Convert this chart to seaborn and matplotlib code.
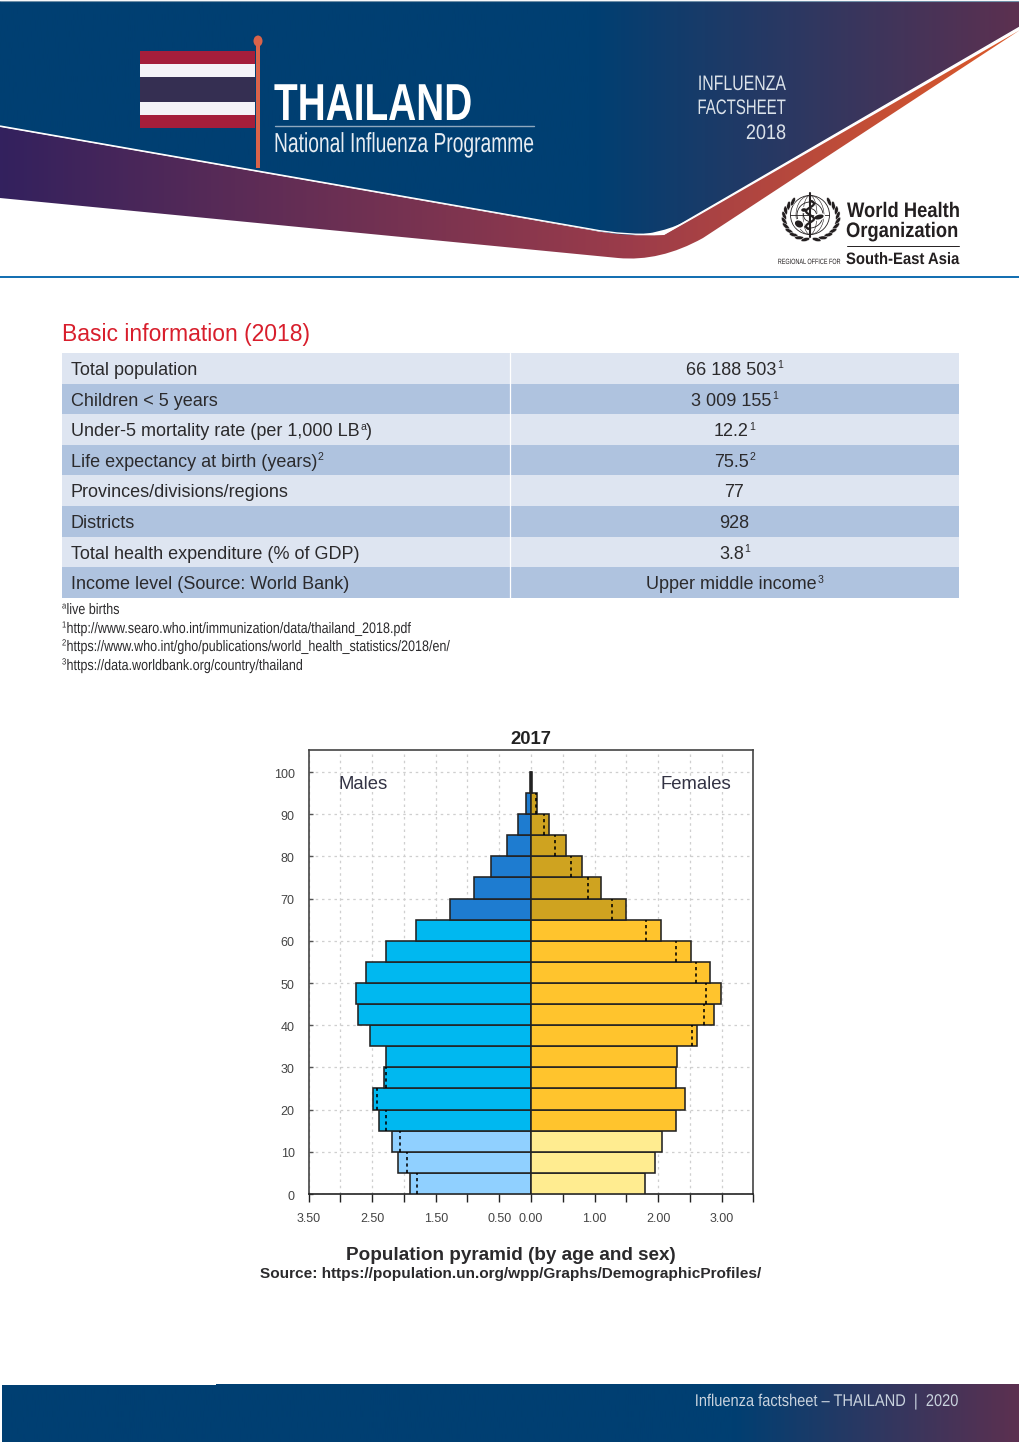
"""Thailand influenza factsheet page: header, basic info table and population pyramid."""

import numpy as np
import pandas as pd
import matplotlib
matplotlib.use("Agg")
import matplotlib.pyplot as plt
import matplotlib.patheffects as pe
import matplotlib.ticker as ticker
from matplotlib.colors import LinearSegmentedColormap
from matplotlib.patches import Circle, Ellipse, PathPatch, Rectangle
from matplotlib.path import Path
from matplotlib.transforms import Affine2D, ScaledTranslation
import seaborn as sns

# ── DATA ──────────────────────────────────────────────────
AGE_MID = [2.5, 7.5, 12.5, 17.5, 22.5, 27.5, 32.5, 37.5, 42.5, 47.5,
           52.5, 57.5, 62.5, 67.5, 72.5, 77.5, 82.5, 87.5, 92.5, 97.5]
MALES = [1.905, 2.09, 2.19, 2.395, 2.495, 2.31, 2.29, 2.537, 2.716, 2.758,
         2.595, 2.29, 1.805, 1.279, 0.895, 0.632, 0.384, 0.205, 0.084, 0.02]
FEMALES = [1.79, 1.96, 2.07, 2.28, 2.42, 2.28, 2.295, 2.616, 2.88, 2.984,
           2.82, 2.516, 2.047, 1.5, 1.095, 0.81, 0.547, 0.284, 0.1, 0.02]
AGE_BAND = ["young"] * 3 + ["adult"] * 10 + ["old"] * 7

X_TICKS = [-3.5, -3, -2.5, -2, -1.5, -1, -0.5, 0, 0.5, 1, 1.5, 2, 2.5, 3, 3.5]
X_LABELLED = [-3.5, -2.5, -1.5, -0.5, 0, 1, 2, 3]
Y_TICKS = [0, 10, 20, 30, 40, 50, 60, 70, 80, 90, 100]

# (text, superscript, text after the superscript)
TABLE_LABELS = [
    ("Total population", "", ""),
    ("Children < 5 years", "", ""),
    ("Under-5 mortality rate (per 1,000 LB", "a", ")"),
    ("Life expectancy at birth (years)", "2", ""),
    ("Provinces/divisions/regions", "", ""),
    ("Districts", "", ""),
    ("Total health expenditure (% of GDP)", "", ""),
    ("Income level (Source: World Bank)", "", ""),
]
TABLE_VALUES = [
    ("66 188 503", "1", ""), ("3 009 155", "1", ""), ("12.2", "1", ""), ("75.5", "2", ""),
    ("77", "", ""), ("928", "", ""), ("3.8", "1", ""), ("Upper middle income", "3", ""),
]
FOOT_MARKS = ["a", "1", "2", "3"]
FOOTNOTES = [
    "live births",
    "http://www.searo.who.int/immunization/data/thailand_2018.pdf",
    "https://www.who.int/gho/publications/world_health_statistics/2018/en/",
    "https://data.worldbank.org/country/thailand",
]

# ── CONFIG ────────────────────────────────────────────────
W, H = 1020, 1442
INK = "#2B2A2C"

PALETTE = {
    "Male young": "#90D0FF", "Male adult": "#00B8F0", "Male old": "#1E7CD0",
    "Female young": "#FFEC90", "Female adult": "#FFC42D", "Female old": "#CFA320",
}

BLUE_GRAD = LinearSegmentedColormap.from_list(
    "blue", [(0, "#003F72"), (0.58, "#003F72"), (1, "#5C3050")])
BAND_GRAD = LinearSegmentedColormap.from_list(
    "band", [(0, "#33215E"), (0.62, "#9C3C4A"), (1, "#DC5A2A")])
FOOT_GRAD = LinearSegmentedColormap.from_list(
    "foot", [(0, "#003F72"), (0.72, "#003F72"), (1, "#5C3050")])


def px(size):
    """Pixel height to points at dpi 100."""
    return size * 0.72


class Squeeze(pe.AbstractPathEffect):
    """No condensed font is installed, so squeeze the glyphs around x0."""

    def __init__(self, sx, x0):
        super().__init__()
        self.sx = sx
        self.x0 = x0

    def draw_path(self, renderer, gc, tpath, affine, rgbFace=None):
        squeeze = Affine2D().translate(-self.x0, 0).scale(self.sx, 1).translate(self.x0, 0)
        renderer.draw_path(gc, tpath, affine + squeeze, rgbFace)


def narrow_text(ax, x, y, s, sx, **kwargs):
    # page axes is 1:1 with the output pixels, so x works as display x
    return ax.text(x, y, s, path_effects=[Squeeze(sx, x)], va="baseline", **kwargs)


def text_width(ax, s, size):
    t = ax.text(0, 0, s, fontsize=px(size))
    width = t.get_window_extent(ax.figure.canvas.get_renderer()).width
    t.remove()
    return width


def sup_text(ax, x, y, parts, size=18, sup_size=10.5, ha="left"):
    """Write text, superscript and tail next to each other, left or centred on x."""
    main, sup, tail = parts
    widths = [text_width(ax, s, sz) if s else 0
              for s, sz in ((main, size), (sup, sup_size), (tail, size))]
    x0 = x - sum(widths) / 2 if ha == "center" else x
    ax.text(x0, y, main, color=INK, fontsize=px(size), va="baseline", zorder=3)
    if sup:
        ax.text(x0 + widths[0] + 0.5, y - 6.5, sup, color=INK, fontsize=px(sup_size), va="baseline", zorder=3)
    if tail:
        ax.text(x0 + widths[0] + widths[1] + 0.5, y, tail, color=INK, fontsize=px(size), va="baseline", zorder=3)


def gradient_patch(ax, verts, codes, cmap):
    patch = PathPatch(Path(verts, codes), facecolor="none", edgecolor="none")
    ax.add_patch(patch)
    img = ax.imshow(np.linspace(0, 1, 512).reshape(1, -1), cmap=cmap, aspect="auto",
                    extent=(0, W, H, 0), zorder=1)
    img.set_clip_path(patch)


def draw_header(ax):
    M, L, C = Path.MOVETO, Path.LINETO, Path.CURVE3

    # blue panel
    gradient_patch(
        ax,
        [(0, 1), (1020, 1), (1020, 27), (690, 219), (664, 234), (625, 236),
         (590, 229), (0, 126), (0, 1)],
        [M, L, L, L, C, C, C, L, L],
        BLUE_GRAD,
    )
    # maroon to orange swoosh underneath
    gradient_patch(
        ax,
        [(0, 127), (590, 230), (625, 237), (664, 235), (690, 221), (1020, 30),
         (703, 238), (660, 262), (618, 258), (0, 198), (0, 127)],
        [M, L, C, C, C, L, L, C, C, L, L],
        BAND_GRAD,
    )
    # white edge along the blue panel
    edge = Path([(0, 126), (590, 229), (625, 236), (664, 234), (690, 219), (1020, 27)],
                [M, L, C, C, C, L])
    ax.add_patch(PathPatch(edge, facecolor="none", edgecolor="white", lw=1.0, zorder=2))

    ax.plot([0, W], [0.5, 0.5], color="#6F8FA8", lw=0.8, zorder=2)
    ax.plot([0, W], [276.5, 276.5], color="#0F6CB0", lw=1.4, zorder=2)

    # flag
    stripes = [(51, 13, "#A51E3B"), (64, 13, "#F4F3F8"), (77, 25, "#352F52"),
               (102, 13, "#F4F3F8"), (115, 13, "#A51E3B")]
    for top, height, colour in stripes:
        ax.add_patch(Rectangle((140, top), 115, height, facecolor=colour, edgecolor="none", zorder=3))
    ax.add_patch(Rectangle((256.5, 40), 3.5, 128, facecolor="#D9634A", edgecolor="none", zorder=3))
    ax.add_patch(Ellipse((258, 41), 9, 11, facecolor="#D9634A", edgecolor="none", zorder=3))

    # titles
    narrow_text(ax, 274, 120, "THAILAND", 0.746, color="white", fontsize=px(52),
                fontweight="bold", ha="left", zorder=4)
    ax.plot([275, 534], [126, 126], color="#8FA8BE", lw=1.0, zorder=4)
    narrow_text(ax, 274, 152, "National Influenza Programme", 0.70, color="#E8EDF2",
                fontsize=px(27.5), ha="left", zorder=4)
    for y, word, sx in zip([90, 114, 139], ["INFLUENZA", "FACTSHEET", "2018"], [0.755, 0.715, 0.86]):
        narrow_text(ax, 786, y, word, sx, color="#DCE3EA", fontsize=px(21),
                    ha="right", zorder=4)


def draw_who_logo(ax):
    cx, cy = 810, 215
    dark = "#231F20"
    # globe
    for r in (19.5, 13, 6.5):
        ax.add_patch(Circle((cx, cy), r, facecolor="none", edgecolor=dark, lw=0.6, zorder=4))
    for rx in (7, 14):
        ax.add_patch(Ellipse((cx, cy), rx * 2, 39, facecolor="none", edgecolor=dark, lw=0.4, zorder=4))
    ax.plot([cx - 19.5, cx + 19.5], [cy, cy], color=dark, lw=0.6, zorder=4)
    # land masses
    ax.add_patch(Ellipse((cx - 11, cy + 9), 10, 8, angle=30, facecolor=dark, zorder=4))
    ax.add_patch(Ellipse((cx + 9, cy + 2), 11, 6, angle=-15, facecolor=dark, zorder=4))
    ax.add_patch(Ellipse((cx - 6, cy - 5), 7, 5, facecolor=dark, zorder=4))
    # staff and snake
    ax.plot([cx, cx], [cy - 22, cy + 22], color=dark, lw=1.5, zorder=5)
    yy = np.arange(cy - 14, cy + 15)
    ax.plot(cx + 4 * np.sin((yy - cy) / 2.4), yy, color=dark, lw=1.6, zorder=5)
    # laurel wreath, leaves on each side
    for side in (-1, 1):
        for deg in range(-48, 92, 14):
            a = np.radians(deg)
            x = cx + 1 + side * 27 * np.cos(a)
            y = cy + 3 + 22 * np.sin(a)
            ax.add_patch(Ellipse((x, y), 3.6, 9, angle=side * (deg + 25), facecolor=dark,
                                 edgecolor="white", lw=0.3, zorder=4))

    narrow_text(ax, 847, 217, "World Health", 0.875, color=dark, fontsize=px(21),
                fontweight="bold", zorder=4)
    narrow_text(ax, 846, 237, "Organization", 0.875, color=dark, fontsize=px(21),
                fontweight="bold", zorder=4)
    ax.plot([847, 959], [245.5, 245.5], color=dark, lw=0.7, zorder=4)
    narrow_text(ax, 846, 264, "South-East Asia", 0.90, color=dark, fontsize=px(16.5),
                fontweight="bold", zorder=4)
    narrow_text(ax, 841, 264, "REGIONAL OFFICE FOR", 0.72, color=dark, fontsize=px(7.6),
                ha="right", zorder=4)


def draw_table(ax):
    ax.text(62, 341, "Basic information (2018)", color="#D81E2C", fontsize=px(22.9), va="baseline")

    top, row_h = 353, 30.6
    for i, (label, value) in enumerate(zip(TABLE_LABELS, TABLE_VALUES)):
        y = top + i * row_h
        colour = "#DEE5F1" if i % 2 == 0 else "#AFC3DF"
        ax.add_patch(Rectangle((62, y), 897, row_h, facecolor=colour, edgecolor="none", zorder=2))
        sup_text(ax, 71, y + 22, label)
        sup_text(ax, 734.5, y + 22, value, ha="center")
    ax.plot([510.5, 510.5], [top, top + 8 * row_h], color="white", lw=0.9, zorder=3)

    for y, mark, note in zip([614, 633, 651, 670], FOOT_MARKS, FOOTNOTES):
        narrow_text(ax, 62, y - 5.5, mark, 0.85, color=INK, fontsize=px(9))
        narrow_text(ax, 66.5, y, note, 0.825, color=INK, fontsize=px(15.2))


def draw_footer(ax):
    gradient_patch(
        ax,
        [(2, 1385), (216, 1385), (216, 1384), (1020, 1384), (1020, 1442), (2, 1442), (2, 1385)],
        [Path.MOVETO] + [Path.LINETO] * 6,
        FOOT_GRAD,
    )
    narrow_text(ax, 959, 1406, "Influenza factsheet – THAILAND  |  2020", 0.86, color="#C9D3DE",
                fontsize=px(17), ha="right", zorder=4)


def plot_pyramid(fig):
    rect = [308.7 / W, 1 - 1194 / H, (753.3 - 308.7) / W, (1194 - 750) / H]
    ax = fig.add_axes(rect, zorder=5, facecolor="white")

    df = pd.concat([
        pd.DataFrame({"age": AGE_MID, "pop": -np.array(MALES),
                      "group": [f"Male {b}" for b in AGE_BAND]}),
        pd.DataFrame({"age": AGE_MID, "pop": FEMALES,
                      "group": [f"Female {b}" for b in AGE_BAND]}),
    ])

    ax.set_axisbelow(True)
    sns.barplot(data=df, x="pop", y="age", hue="group", palette=PALETTE, dodge=False,
                orient="y", native_scale=True, width=1, errorbar=None, legend=False,
                saturation=1, edgecolor="#222222", linewidth=1.15, ax=ax, zorder=3)

    # dotted marks: the other sex's size, mirrored onto the larger side
    for age, m, f in zip(AGE_MID[:-1], MALES[:-1], FEMALES[:-1]):
        if abs(m - f) < 0.01:
            continue
        x = -f if m > f else m
        ax.vlines(x, age - 2.5, age + 2.5, color="black", lw=1.15,
                  linestyles=(0, (2, 2)), zorder=4)

    ax.set_xlim(-3.5, 3.5)
    ax.set_ylim(0, 105.2)
    ax.set_xlabel("")
    ax.set_ylabel("")

    ax.set_xticks(X_TICKS)
    ax.xaxis.set_major_formatter(ticker.FuncFormatter(
        lambda v, _: f"{abs(v):.2f}" if v in X_LABELLED else ""))
    ax.set_yticks(Y_TICKS)
    ax.tick_params(axis="x", direction="out", length=5.5, width=1.0, color="#222222",
                   labelsize=px(12.5), labelcolor="#444444", pad=8, bottom=True)
    ax.tick_params(axis="y", direction="in", length=3, width=1.0, color="#555555",
                   labelsize=px(12.5), labelcolor="#444444", pad=10, left=True)
    ax.grid(True, color="#CFCFCF", lw=0.9, linestyle=(0, (2, 3)))

    # y labels sit a pixel below their ticks in the original
    nudge = ScaledTranslation(0, -1.2 / 100, fig.dpi_scale_trans)
    for label in ax.get_yticklabels():
        label.set_transform(label.get_transform() + nudge)

    for name, spine in ax.spines.items():
        spine.set_visible(True)
        spine.set_linewidth(1.2)
        spine.set_color("#222222" if name == "bottom" else "#444444")

    ax.text(-3.03, 97.0, "Males", color="#333344", fontsize=px(18.5), va="center", zorder=5)
    ax.text(3.15, 97.0, "Females", color="#333344", fontsize=px(18.5), va="center", ha="right", zorder=5)
    ax.set_title("2017", fontsize=px(18.5), fontweight="bold", color="#222222", pad=4)
    return ax


def main():
    sns.set_theme(style="white")
    plt.rcParams.update({
        "font.family": ["Liberation Sans", "DejaVu Sans"],
        "axes.unicode_minus": False,
    })

    fig = plt.figure(figsize=(W / 100, H / 100), dpi=100, facecolor="white")
    page = fig.add_axes([0, 0, 1, 1], zorder=0)
    page.axis("off")

    draw_header(page)
    draw_who_logo(page)
    draw_table(page)
    draw_footer(page)
    page.text(510.5, 1260, "Population pyramid (by age and sex)", color=INK, fontsize=px(18.85),
              fontweight="bold", ha="center", va="baseline")
    page.text(510.5, 1278, "Source: https://population.un.org/wpp/Graphs/DemographicProfiles/",
              color=INK, fontsize=px(15.33), fontweight="bold", ha="center", va="baseline")
    page.set_xlim(0, W)
    page.set_ylim(H, 0)

    plot_pyramid(fig)

    plt.savefig("out.png", dpi=100, facecolor="white")
    plt.close()


if __name__ == "__main__":
    main()
